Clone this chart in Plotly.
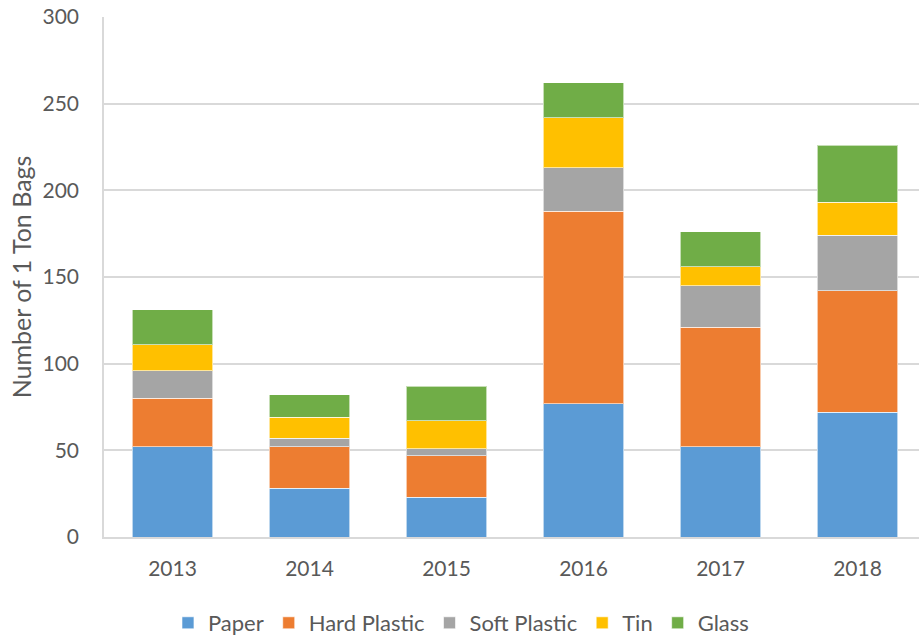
import plotly.graph_objects as go

years = ["2013", "2014", "2015", "2016", "2017", "2018"]
paper = [52, 28, 23, 77, 52, 72]
hard_plastic = [28, 24, 24, 111, 69, 70]
soft_plastic = [16, 5, 4, 25, 24, 32]
tin = [15, 12, 16, 29, 11, 19]
glass = [20, 13, 20, 20, 20, 33]
y_ticks = [0, 50, 100, 150, 200, 250, 300]

series = [
    ("Paper", paper, "#5B9BD5"),
    ("Hard Plastic", hard_plastic, "#ED7D31"),
    ("Soft Plastic", soft_plastic, "#A5A5A5"),
    ("Tin", tin, "#FFC000"),
    ("Glass", glass, "#70AD47"),
]

fig = go.Figure()
for name, vals, color in series:
    fig.add_trace(go.Bar(
        x=years, y=vals, name=name,
        marker=dict(color=color, line=dict(color="rgba(255,255,255,0.6)", width=1)),
    ))

font = "Lato, 'Open Sans', sans-serif"
fig.update_layout(
    barmode="stack",
    bargap=0.41,
    width=919, height=637,
    margin=dict(l=104, r=0, t=17, b=100),
    paper_bgcolor="white",
    plot_bgcolor="white",
    font=dict(family=font, size=21, color="#595959"),
    legend=dict(
        orientation="h", x=0.438, xanchor="center",
        yref="container", y=0.022, yanchor="middle",
        font=dict(size=22, color="#595959"), traceorder="normal",
    ),
    xaxis=dict(
        type="category", range=[-0.5, 5.449], automargin=False,
        showline=True, linecolor="#d9d9d9", linewidth=1.5,
        showgrid=False, ticks="", ticklabelstandoff=12,
        tickfont=dict(size=21, color="#595959"),
    ),
    yaxis=dict(
        range=[0, 300], tickvals=y_ticks, automargin=False,
        showline=True, linecolor="#d9d9d9", linewidth=1.5,
        showgrid=True, gridcolor="#d9d9d9", gridwidth=1.5,
        zeroline=False, ticks="", ticklabelstandoff=19,
        tickfont=dict(size=21, color="#595959"),
        title=dict(text="Number of 1 Ton Bags", font=dict(size=25, color="#595959"), standoff=4),
    ),
)

post = (
    "document.documentElement.style.overflow='hidden';"
    "document.documentElement.style.height='637px';"
    "document.body.style.margin='0';"
    "document.body.style.overflow='hidden';"
    "document.body.style.height='637px';"
    "var p=document.getElementById('{plot_id}').parentElement;"
    "p.style.lineHeight='0';p.style.height='637px';p.style.overflow='hidden';"
)

fig.write_html("out.html", config={"displayModeBar": False}, post_script=post)
